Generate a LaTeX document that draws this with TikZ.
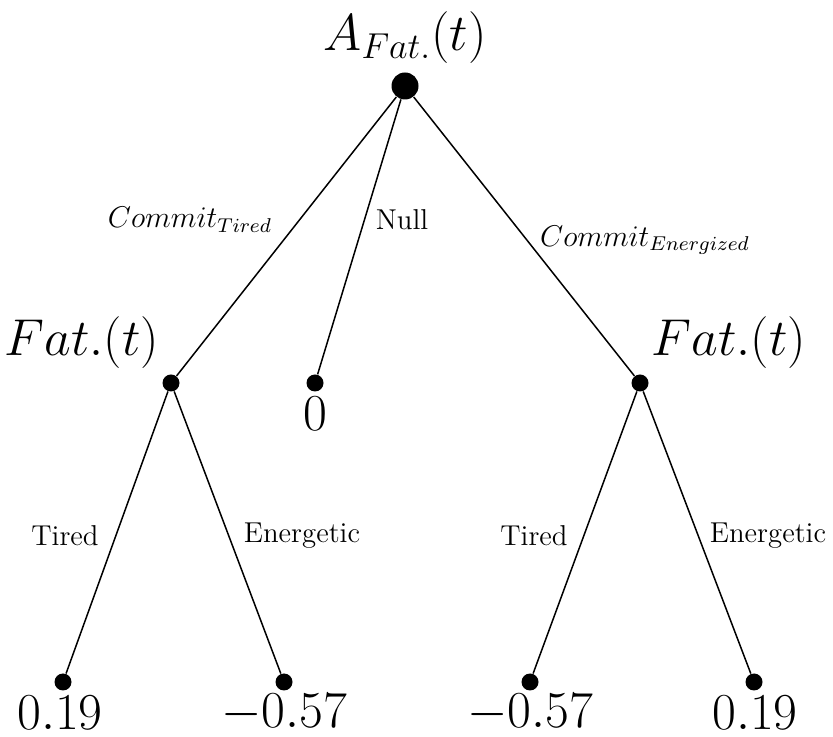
\documentclass[tikz,border=0pt]{standalone}
\begin{document}
\begin{tikzpicture}[x=0.4pt,y=-0.4pt,
  bigdot/.style={circle,fill=black,inner sep=0pt,minimum size=10.8pt},
  dot/.style={circle,fill=black,inner sep=0pt,minimum size=6.8pt},
  edge/.style={line width=0.6pt},
  big/.style={font=\fontsize{21}{24}\selectfont,inner sep=0pt},
  mid/.style={font=\fontsize{19.8}{23}\selectfont,inner sep=0pt},
  lab/.style={font=\fontsize{11.5}{13}\selectfont,inner sep=0pt}]
\useasboundingbox (0,0) rectangle (833,737);
\node[bigdot] (r) at (405,86) {};
\node[dot] (l) at (171,383) {};
\node[dot] (m) at (315,383) {};
\node[dot] (rr) at (640,383) {};
\node[dot] (l1) at (63,682) {};
\node[dot] (l2) at (284,682) {};
\node[dot] (r1) at (530,682) {};
\node[dot] (r2) at (754,682) {};
\draw[edge] (r) -- (l);
\draw[edge] (r) -- (m);
\draw[edge] (r) -- (rr);
\draw[edge] (l) -- (l1);
\draw[edge] (l) -- (l2);
\draw[edge] (rr) -- (r1);
\draw[edge] (rr) -- (r2);
\node[big] (tr) at (405,38) {$A_{Fat.}(t)$};
\node[mid] (tl) at (82,343) {$Fat.(t)$};
\node[mid] (trr) at (729,343) {$Fat.(t)$};
\node[big] (t0) at (315,414) {$0$};
\node[big] (v1) at (60,713) {$0.19$};
\node[big] (v2) at (284,713) {$-0.57$};
\node[big] (v3) at (530,713) {$-0.57$};
\node[big] (v4) at (755,713) {$0.19$};
\node[lab] (e1) at (190,220) {$Commit_{Tired}$};
\node[lab] (e2) at (402,220) {Null};
\node[lab] (e3) at (645,240) {$Commit_{Energized}$};
\node[lab] (e4) at (65,536) {Tired};
\node[lab] (e5) at (302,536) {Energetic};
\node[lab] (e6) at (534,536) {Tired};
\node[lab] (e7) at (768,536) {Energetic};
\end{tikzpicture}
\end{document}
